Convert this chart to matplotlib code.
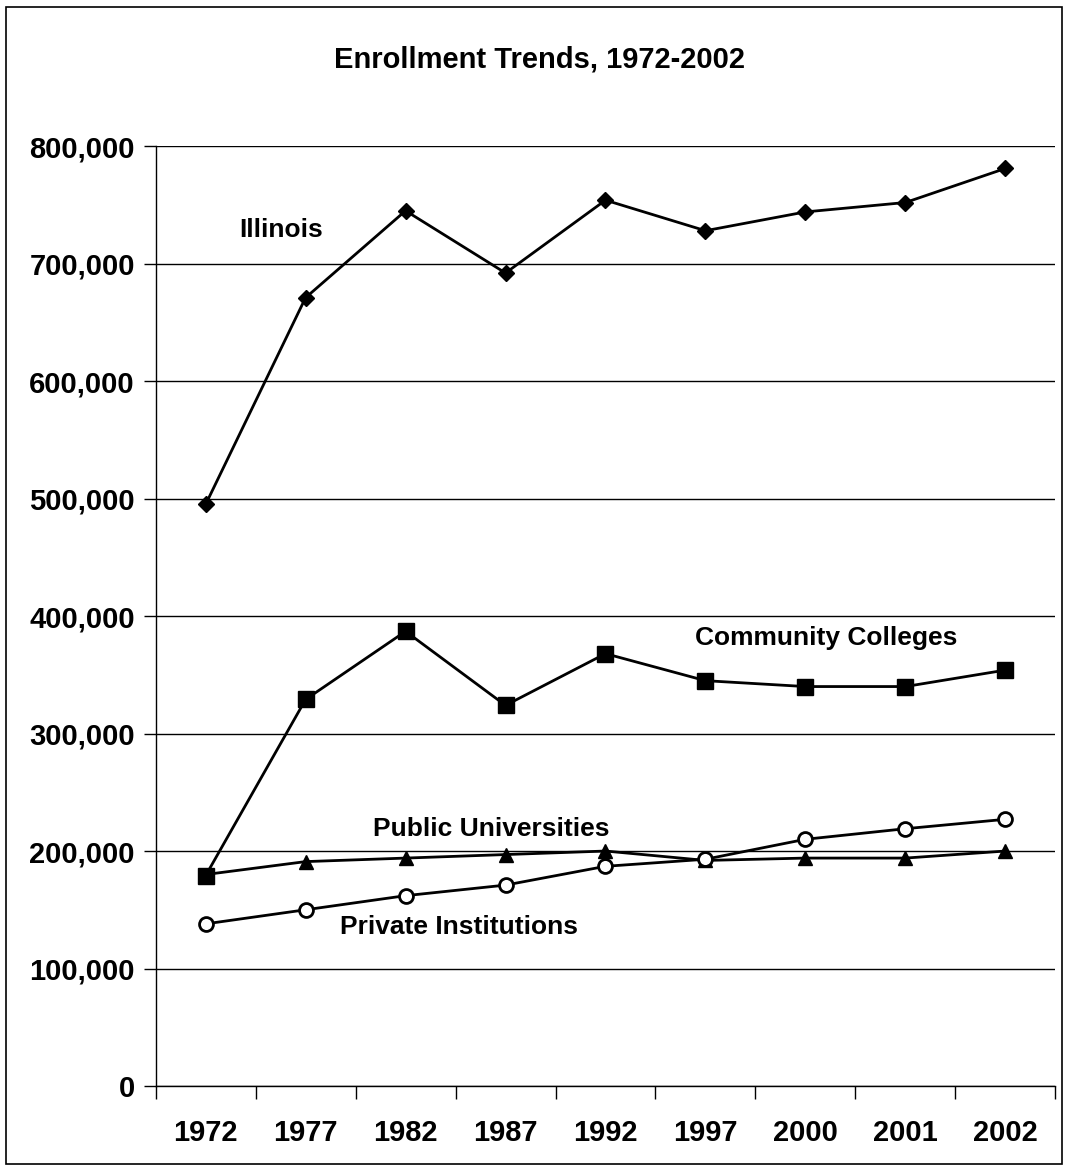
import numpy as np
import matplotlib.pyplot as plt
from matplotlib.ticker import FuncFormatter, FixedLocator
from matplotlib.patches import Rectangle

plt.rcParams['font.family'] = ['Liberation Sans', 'DejaVu Sans']
plt.rcParams['font.weight'] = 'bold'

years = ['1972', '1977', '1982', '1987', '1992', '1997', '2000', '2001', '2002']
illinois = [495000, 671000, 745000, 692000, 754000, 728000, 744000, 752000, 781000]
community = [179000, 329000, 387000, 324000, 368000, 345000, 340000, 340000, 354000]
public = [180000, 191000, 194000, 197000, 200000, 192000, 194000, 194000, 200000]
private = [138000, 150000, 162000, 171000, 187000, 193000, 210000, 219000, 227000]

fig = plt.figure(figsize=(10.66, 11.69), dpi=100)
fig.patches.append(Rectangle((0.006, 0.004), 0.99, 0.99, transform=fig.transFigure,
                             fill=False, edgecolor='black', linewidth=1.2))
ax = fig.add_axes([0.146, 0.071, 0.844, 0.804])

x = np.arange(len(years))
ax.plot(x, illinois, color='black', lw=2, marker='D', ms=8, mfc='black', zorder=3)
ax.plot(x, community, color='black', lw=2, marker='s', ms=11, mfc='black', zorder=3)
ax.plot(x, public, color='black', lw=2, marker='^', ms=10, mfc='black', zorder=3)
ax.plot(x, private, color='black', lw=2, marker='o', ms=10, mfc='white', mew=2, zorder=3)

ax.text(0.34, 729000, 'Illinois', fontsize=19, fontweight='bold', ha='left', va='center')
ax.text(6.21, 381000, 'Community Colleges', fontsize=19, fontweight='bold', ha='center', va='center')
ax.text(2.86, 219000, 'Public Universities', fontsize=19, fontweight='bold', ha='center', va='center')
ax.text(2.53, 135000, 'Private Institutions', fontsize=19, fontweight='bold', ha='center', va='center')

ax.set_xlim(-0.5, len(years) - 0.5)
ax.set_ylim(0, 800000)
ax.set_yticks(np.arange(0, 800001, 100000))
ax.yaxis.set_major_formatter(FuncFormatter(lambda v, p: f'{int(v):,}'))
ax.yaxis.grid(True, color='black', lw=1)
ax.set_axisbelow(True)

ax.set_xticks(x)
ax.set_xticklabels(years)
ax.xaxis.set_minor_locator(FixedLocator(np.arange(-0.5, len(years), 1)))
ax.tick_params(axis='x', which='major', length=0, pad=24, labelsize=21)
ax.tick_params(axis='x', which='minor', length=9, width=1, direction='out')
ax.tick_params(axis='y', length=9, width=1, pad=6, labelsize=21)

for s in ['top', 'right']:
    ax.spines[s].set_visible(False)
ax.spines['left'].set_linewidth(1)
ax.spines['bottom'].set_linewidth(1)

for lbl in ax.get_xticklabels() + ax.get_yticklabels():
    lbl.set_fontweight('bold')

fig.text(0.506, 0.949, 'Enrollment Trends, 1972-2002', fontsize=21, fontweight='bold',
         ha='center', va='center')

fig.savefig('out.png', dpi=100)
